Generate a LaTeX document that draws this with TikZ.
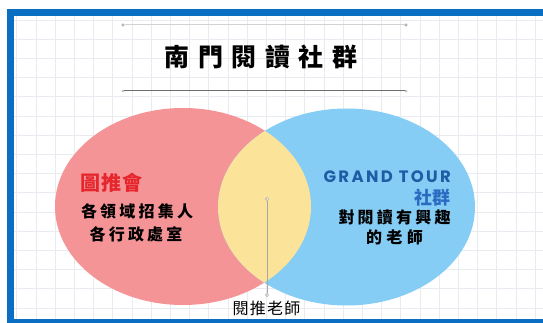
\documentclass[tikz,border=0pt]{standalone}
\usepackage{fontspec}
\newfontfamily\cjk{Noto Sans CJK TC}
\newfontfamily\latn{Poppins}
\definecolor{frameblue}{HTML}{0A6FC2}
\definecolor{gridc}{HTML}{E8ECF0}
\definecolor{redfill}{HTML}{F59497}
\definecolor{bluefill}{HTML}{86CDF6}
\definecolor{yellowfill}{HTML}{FBE39A}
\definecolor{titred}{HTML}{E5262C}
\definecolor{gtblue}{HTML}{1F5CA6}
\definecolor{sqblue}{HTML}{2A6CC2}
\tikzset{
  txt/.style={inner sep=0pt, text=black, font=\cjk},
  dot/.style={circle, draw=gray!80, fill=white, line width=0.5pt, inner sep=0pt, minimum size=3.2pt},
}
\begin{document}
\begin{tikzpicture}[x=1pt,y=-1pt]
\useasboundingbox (0,0) rectangle (543,323);
\fill[white] (0,0) rectangle (543,323);
% frame
\fill[frameblue] (7,9) rectangle (543,323);
\fill[white] (14,16) rectangle (543,319);
% grid
\begin{scope}
\clip (14,16) rectangle (543,319);
\foreach \i in {-1,...,27} \draw[gridc, line width=0.8pt] (36+\i*19.2,16) -- (36+\i*19.2,319);
\foreach \j in {-1,...,16} \draw[gridc, line width=0.8pt] (14,20+\j*19.2) -- (543,20+\j*19.2);
\end{scope}
% ellipses
\fill[redfill] (183,206.5) ellipse [x radius=128, y radius=98.5];
\fill[bluefill] (346.5,207) ellipse [x radius=128.5, y radius=98.5];
\begin{scope}
\clip (183,206.5) ellipse [x radius=128, y radius=98.5];
\fill[yellowfill] (346.5,207) ellipse [x radius=128.5, y radius=98.5];
\end{scope}
% title rules
\node[dot, minimum size=2.5pt] (tl1) at (123,25) {};
\node[dot, minimum size=2.5pt] (tl2) at (406,25) {};
\draw[gray!35, line width=1pt] (tl1) -- (tl2);
\node[dot, minimum size=2pt, draw=gray!60] (bl1) at (123,91) {};
\node[dot, minimum size=2pt, draw=gray!60] (bl2) at (406,91) {};
\draw[gray!85!black, line width=1pt] (bl1) -- (bl2);
% title
\node[txt, font=\cjk\bfseries\fontsize{25}{25}\selectfont\addfontfeature{LetterSpace=34}] (title) at (261,57) {南門閱讀社群};
% left texts
\node[txt, text=titred, anchor=west, font=\cjk\bfseries\fontsize{20}{20}\selectfont\addfontfeature{LetterSpace=6}] (tui) at (80,183) {圖推會};
\node[txt, font=\cjk\bfseries\fontsize{16}{16}\selectfont\addfontfeature{LetterSpace=20}] (l1) at (137,211) {各領域招集人};
\node[txt, font=\cjk\bfseries\fontsize{16}{16}\selectfont\addfontfeature{LetterSpace=20}] (l2) at (136,234) {各行政處室};
% right texts
\node[txt, text=gtblue, anchor=east, font=\latn\bfseries\fontsize{16.5}{16.5}\selectfont\addfontfeature{LetterSpace=14}] (gt) at (451,177) {GRAND\hspace{6pt}TOUR};
\node[txt, text=sqblue, anchor=east, font=\cjk\bfseries\fontsize{18}{18}\selectfont\addfontfeature{LetterSpace=4}] (sq) at (451,198) {社群};
\node[txt, font=\cjk\bfseries\fontsize{16}{16}\selectfont\addfontfeature{LetterSpace=20}] (r1) at (394.5,217) {對閱讀有興趣};
\node[txt, font=\cjk\bfseries\fontsize{16}{16}\selectfont\addfontfeature{LetterSpace=28}] (r2) at (394.5,237) {的老師};
% connector
\node[dot] (c1) at (267,199) {};
\node[dot] (c2) at (267,295) {};
\draw[gray!70, line width=0.7pt] (c1) -- (c2);
\node[txt, font=\cjk\fontsize{16}{16}\selectfont\addfontfeature{LetterSpace=8}] (yt) at (266.5,308) {閱推老師};
\end{tikzpicture}
\end{document}
